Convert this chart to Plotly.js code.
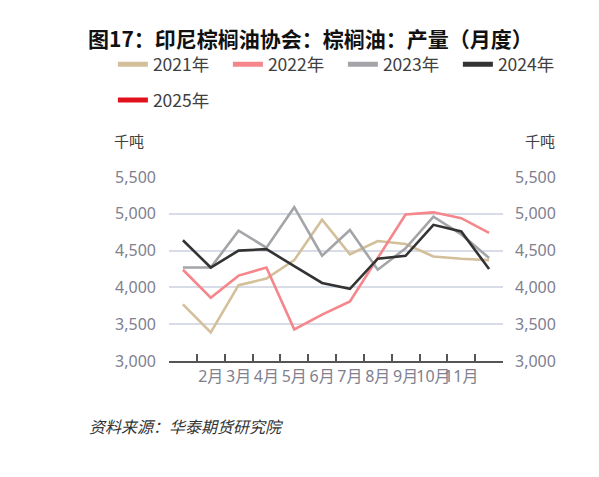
<!DOCTYPE html>
<html>
<head>
<meta charset="utf-8">
<script src="https://cdn.plot.ly/plotly-3.0.1.min.js"></script>
<style>
  body { margin: 0; background: #fff; }
  #chart { width: 599px; height: 477px; }
</style>
</head>
<body>
<div id="chart"></div>
<script>
// 印尼棕榈油协会：棕榈油产量（月度），千吨
var months = ['1月', '2月', '3月', '4月', '5月', '6月', '7月', '8月', '9月', '10月', '11月', '12月'];
var shownMonths = months.slice(1, 11);

var y2021 = [3770, 3390, 4030, 4120, 4370, 4920, 4450, 4630, 4590, 4420, 4390, 4370];
var y2022 = [4240, 3860, 4160, 4270, 3430, 3630, 3810, 4400, 4990, 5020, 4940, 4740];
var y2023 = [4270, 4270, 4770, 4540, 5090, 4430, 4780, 4240, 4530, 4960, 4720, 4400];
var y2024 = [4640, 4270, 4500, 4520, 4290, 4060, 3980, 4390, 4430, 4850, 4760, 4250];
var y2025 = [];

var seriesNames = ['2021年', '2022年', '2023年', '2024年', '2025年'];
var seriesColors = ['#d3c09b', '#f4868c', '#a3a5a8', '#333333', '#e2121d'];
var seriesValues = [y2021, y2022, y2023, y2024, y2025];

var data = [];
seriesValues.forEach(function(vals, i) {
  data.push({
    x: months.slice(0, vals.length),
    y: vals,
    type: 'scatter',
    mode: 'lines',
    name: seriesNames[i],
    line: { color: seriesColors[i], width: 2.6 },
    showlegend: false,
    hoverinfo: 'x+y'
  });
});
// legend entries (thicker swatches), drawn against the right axis
seriesNames.forEach(function(name, i) {
  data.push({
    x: [null],
    y: [null],
    type: 'scatter',
    mode: 'lines',
    name: name,
    yaxis: 'y2',
    line: { color: seriesColors[i], width: 5 },
    legend: i < 4 ? 'legend' : 'legend2'
  });
});

var tickFont = { family: 'Noto Sans, Noto Sans CJK SC, sans-serif', size: 16, color: '#80808f' };
var legendFont = { family: 'Noto Sans CJK SC, Noto Sans, sans-serif', size: 17.5, color: '#404040' };

var layout = {
  width: 599,
  height: 477,
  margin: { l: 169, r: 96, t: 177, b: 116 },
  paper_bgcolor: '#ffffff',
  plot_bgcolor: '#ffffff',
  showlegend: true,
  title: {
    text: '<b>图17：印尼棕榈油协会：棕榈油：产量（月度）</b>',
    font: { family: 'Noto Sans CJK SC, sans-serif', size: 21, color: '#111111' },
    x: 0.147, xref: 'container', xanchor: 'left',
    y: 0.916, yref: 'container', yanchor: 'middle'
  },
  xaxis: {
    type: 'category',
    categoryorder: 'array',
    categoryarray: months,
    range: [-0.5, 11.5],
    tickvals: shownMonths,
    ticktext: shownMonths,
    tickson: 'boundaries',
    tickangle: 0,
    ticks: 'inside',
    ticklen: 7,
    tickwidth: 1.5,
    tickcolor: '#555555',
    showline: true,
    linecolor: '#555555',
    linewidth: 1.5,
    showgrid: false,
    zeroline: false,
    tickfont: tickFont,
    fixedrange: true
  },
  yaxis: {
    range: [3000, 5500],
    tickvals: [3000, 3500, 4000, 4500, 5000, 5500],
    tickformat: ',d',
    showgrid: true,
    gridcolor: '#d8dce6',
    gridwidth: 1.5,
    zeroline: false,
    showline: false,
    ticks: '',
    ticklabelstandoff: 12,
    tickfont: tickFont,
    fixedrange: true
  },
  yaxis2: {
    overlaying: 'y',
    side: 'right',
    range: [3000, 5500],
    tickvals: [3000, 3500, 4000, 4500, 5000, 5500],
    tickformat: ',d',
    showgrid: false,
    zeroline: false,
    showline: false,
    ticks: '',
    ticklabelstandoff: 11,
    tickfont: tickFont,
    fixedrange: true
  },
  legend: {
    orientation: 'h',
    x: -0.168, xanchor: 'left',
    y: 1.71, yanchor: 'top',
    entrywidth: 70,
    entrywidthmode: 'pixels',
    font: legendFont,
    bgcolor: 'rgba(0,0,0,0)'
  },
  legend2: {
    orientation: 'h',
    x: -0.168, xanchor: 'left',
    y: 1.515, yanchor: 'top',
    font: legendFont,
    bgcolor: 'rgba(0,0,0,0)'
  },
  annotations: [
    {
      text: '千吨', xref: 'paper', yref: 'paper', x: -0.12, y: 1.2,
      xanchor: 'center', yanchor: 'middle', showarrow: false,
      font: { family: 'Noto Sans CJK SC, sans-serif', size: 15, color: '#404040' }
    },
    {
      text: '千吨', xref: 'paper', yref: 'paper', x: 1.11, y: 1.2,
      xanchor: 'center', yanchor: 'middle', showarrow: false,
      font: { family: 'Noto Sans CJK SC, sans-serif', size: 15, color: '#404040' }
    },
    {
      text: '<i>资料来源：华泰期货研究院</i>', xref: 'paper', yref: 'paper', x: -0.246, y: -0.355,
      xanchor: 'left', yanchor: 'middle', showarrow: false,
      font: { family: 'Noto Sans CJK SC, sans-serif', size: 16, color: '#333333' }
    }
  ]
};

Plotly.newPlot('chart', data, layout, { displayModeBar: false, displaylogo: false });
</script>
</body>
</html>
